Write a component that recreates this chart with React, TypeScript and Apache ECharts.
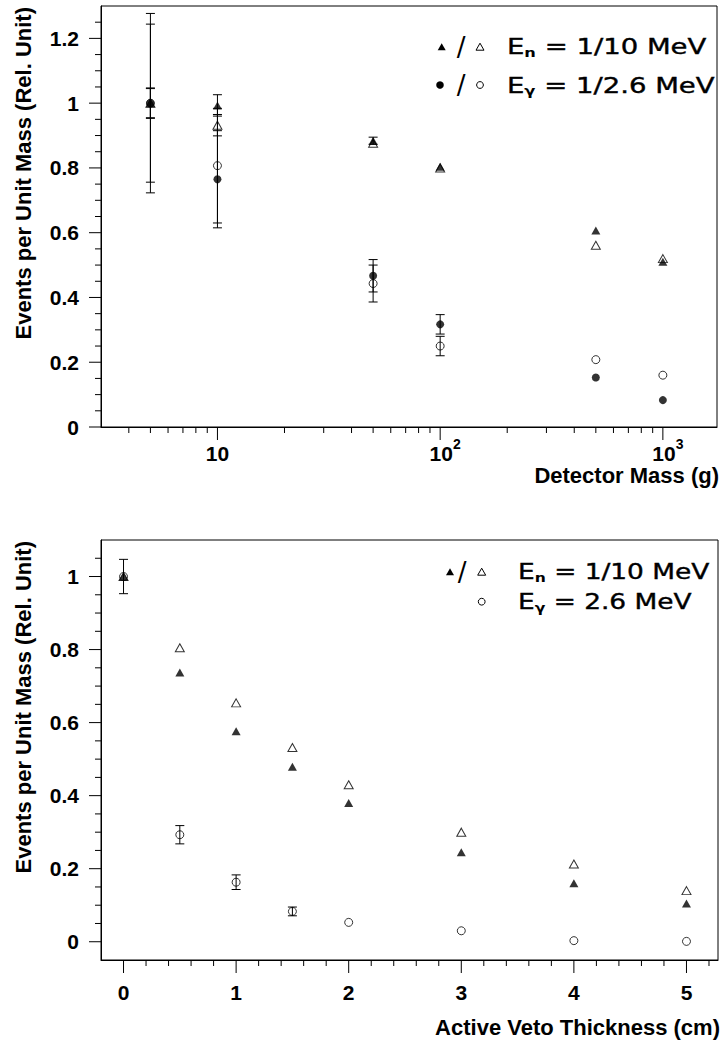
import React, { useEffect, useRef } from "react";
import * as echarts from "echarts";

// ---------- Top panel: events per unit mass vs detector mass ----------
const massG = [5, 10, 50, 100, 500, 1000];
const neutron1MeV = [1.0, 0.993, 0.884, 0.804, 0.607, 0.51];
const neutron1MeVErr = [0.045, 0.033, 0.011, 0, 0, 0];
const neutron10MeV = [1.0, 0.932, 0.876, 0.8, 0.561, 0.52];
const neutron10MeVErr = [0.047, 0.033, 0, 0, 0, 0];
const gamma1MeV = [1.0, 0.765, 0.467, 0.317, 0.153, 0.083];
const gamma1MeVErr = [0.277, 0.15, 0.05, 0.03, 0, 0];
const gamma26MeV = [1.0, 0.807, 0.443, 0.25, 0.208, 0.16];
const gamma26MeVErr = [0.244, 0.177, 0.057, 0.03, 0, 0];

// ---------- Bottom panel: events per unit mass vs active veto thickness ----------
const vetoCm = [0, 0.5, 1, 1.5, 2, 3, 4, 5];
const vetoNeutron1MeV = [1.0, 0.737, 0.576, 0.479, 0.38, 0.245, 0.16, 0.105];
const vetoNeutron10MeV = [1.0, 0.805, 0.654, 0.532, 0.43, 0.3, 0.213, 0.14];
const vetoGamma26MeV = [1.0, 0.293, 0.163, 0.083, 0.053, 0.03, 0.003, 0.001];
const vetoGamma26MeVErr = [0.047, 0.025, 0.02, 0.012, 0, 0, 0, 0];

// ---------- Tick positions ----------
const topXMajor = [10, 100, 1000];
const topXMinor = [4, 5, 6, 7, 8, 9, 20, 30, 40, 50, 60, 70, 80, 90, 200, 300, 400, 500, 600, 700, 800, 900];
const topYMajor = [0, 0.2, 0.4, 0.6, 0.8, 1, 1.2];
const topYMinor = [0.05, 0.1, 0.15, 0.25, 0.3, 0.35, 0.45, 0.5, 0.55, 0.65, 0.7, 0.75, 0.85, 0.9, 0.95, 1.05, 1.1, 1.15, 1.25];
const botXMajor = [0, 1, 2, 3, 4, 5];
const botXMinor = [0.2, 0.4, 0.6, 0.8, 1.2, 1.4, 1.6, 1.8, 2.2, 2.4, 2.6, 2.8, 3.2, 3.4, 3.6, 3.8, 4.2, 4.4, 4.6, 4.8, 5.2];
const botYMajor = [0, 0.2, 0.4, 0.6, 0.8, 1];
const botYMinor = [0.05, 0.1, 0.15, 0.25, 0.3, 0.35, 0.45, 0.5, 0.55, 0.65, 0.7, 0.75, 0.85, 0.9, 0.95, 1.05];

// axis ranges
const topXRange = [3, 1750];
const topYRange = [0, 1.3];
const botXRange = [-0.2, 5.28];
const botYRange = [-0.05, 1.1];

const FONT = "'Liberation Sans', Arial, Helvetica, sans-serif";
const LEG_FONT = "'DejaVu Sans', sans-serif";

const pairs = (xs: number[], ys: number[]) => xs.map((x, i) => [x, ys[i]]);
const triples = (xs: number[], ys: number[], es: number[]) => xs.map((x, i) => [x, ys[i], es[i]]);
const tickData = (xMaj: number[], xMin: number[], yMaj: number[], yMin: number[], x0: number, y0: number) => [
  ...xMaj.map((v) => [v, y0, 0]),
  ...xMin.map((v) => [v, y0, 1]),
  ...yMaj.map((v) => [x0, v, 2]),
  ...yMin.map((v) => [x0, v, 3]),
];

const lineStyle = { stroke: "#000", lineWidth: 1 };

const tickRender = (_p: any, api: any) => {
  const kind = api.value(2);
  const p = api.coord([api.value(0), api.value(1)]);
  const len = kind === 0 ? 13 : kind === 2 ? 12 : 6;
  const shape =
    kind >= 2
      ? { x1: p[0] - len, y1: p[1], x2: p[0], y2: p[1] }
      : { x1: p[0], y1: p[1], x2: p[0], y2: p[1] + len };
  return { type: "line", shape, style: lineStyle };
};

const errRender = (_p: any, api: any) => {
  const x = api.value(0);
  const y = api.value(1);
  const e = api.value(2);
  if (!(e > 0)) return null;
  const lo = api.coord([x, y - e]);
  const hi = api.coord([x, y + e]);
  const cw = 4.5;
  return {
    type: "group",
    children: [
      { type: "line", shape: { x1: lo[0], y1: lo[1], x2: hi[0], y2: hi[1] }, style: lineStyle },
      { type: "line", shape: { x1: hi[0] - cw, y1: hi[1], x2: hi[0] + cw, y2: hi[1] }, style: lineStyle },
      { type: "line", shape: { x1: lo[0] - cw, y1: lo[1], x2: lo[0] + cw, y2: lo[1] }, style: lineStyle },
    ],
  };
};

const filledStyle = { color: "#000", borderColor: "#000", borderWidth: 0 };
const openStyle = { color: "rgba(255,255,255,0)", borderColor: "#000", borderWidth: 1 };

const yLabel = (v: number) => {
  const k = v / 0.2;
  if (Math.abs(k - Math.round(k)) > 1e-6) return "";
  return String(parseFloat((Math.round(k) * 0.2).toFixed(1)));
};
const intLabel = (v: number) => (Math.abs(v - Math.round(v)) > 1e-6 ? "" : String(Math.round(v)));
const logLabel = (v: number) => {
  const p = Math.log10(v);
  const r = Math.round(p);
  if (Math.abs(p - r) > 1e-6) return "";
  return r === 1 ? "{b|10}" : "{bs|10}{s|" + r + "}";
};

const labelStyle = { fontSize: 21, fontWeight: "bold", fontFamily: FONT, color: "#000" };
const axisLineStyle = { show: true, onZero: false, lineStyle: { color: "#000", width: 1 } };

const scatter = (name: string, xi: number, data: number[][], symbol: string, open: boolean, z: number) => ({
  name,
  type: "scatter",
  xAxisIndex: xi,
  yAxisIndex: xi,
  data,
  symbol,
  symbolSize: symbol === "triangle" ? [9, 8] : 8,
  itemStyle: open ? openStyle : filledStyle,
  z,
  silent: true,
});

const legendText = (x: number, y: number, sub: string, rest: string, sx: number) => ({
  type: "text",
  x,
  y,
  scaleX: sx,
  style: {
    text: "{a|E}{b|" + sub + "}{a| = " + rest + "}",
    fill: "#000",
    align: "left",
    verticalAlign: "middle",
    rich: {
      a: { fontSize: 22, fontFamily: LEG_FONT, lineHeight: 30, fill: "#000", stroke: "#000", lineWidth: 0.4 },
      b: { fontSize: 13, fontFamily: LEG_FONT, fontWeight: "bold", lineHeight: 30, padding: [11, 0, 0, 0], fill: "#000" },
    },
  },
});
const triSym = (cx: number, cy: number, filled: boolean) => ({
  type: "polygon",
  shape: { points: [[cx - 4, cy + 3.5], [cx + 4, cy + 3.5], [cx, cy - 3.5]] },
  style: filled ? { fill: "#000" } : { fill: "none", stroke: "#000", lineWidth: 1 },
});
const circSym = (cx: number, cy: number, filled: boolean) => ({
  type: "circle",
  shape: { cx, cy, r: filled ? 3.8 : 3.4 },
  style: filled ? { fill: "#000" } : { fill: "none", stroke: "#000", lineWidth: 1 },
});
const slash = (x: number, y: number) => ({
  type: "text",
  x,
  y,
  style: { text: "/", fontSize: 26, fontFamily: LEG_FONT, fill: "#000", align: "center", verticalAlign: "middle" },
});

export default function App() {
  const ref = useRef<HTMLDivElement>(null);
  useEffect(() => {
    if (!ref.current) return;
    const chart = echarts.init(ref.current, null, { renderer: "svg" });
    const option: any = {
      animation: false,
      backgroundColor: "#fff",
      grid: [
        { left: 101, right: 7, top: 6, bottom: 615, show: true, borderColor: "#000", borderWidth: 1, backgroundColor: "transparent", containLabel: false, outerBoundsMode: "none" },
        { left: 101, right: 6, top: 540, bottom: 82, show: true, borderColor: "#000", borderWidth: 1, backgroundColor: "transparent", containLabel: false, outerBoundsMode: "none" },
      ],
      xAxis: [
        {
          type: "log",
          logBase: 10,
          gridIndex: 0,
          min: topXRange[0],
          max: topXRange[1],
          axisLine: axisLineStyle,
          axisTick: { show: false },
          minorTick: { show: false },
          splitLine: { show: false },
          axisLabel: {
            margin: 10,
            formatter: logLabel,
            color: "#000",
            rich: {
              b: { ...labelStyle, lineHeight: 32 },
              bs: { ...labelStyle, lineHeight: 32, padding: [0, 0, 0, 10] },
              s: { fontSize: 14, fontWeight: "bold", fontFamily: FONT, color: "#000", lineHeight: 32, padding: [0, 0, 18, 0] },
            },
          },
        },
        {
          type: "value",
          gridIndex: 1,
          min: botXRange[0],
          max: botXRange[1],
          interval: 0.2,
          axisLine: axisLineStyle,
          axisTick: { show: false },
          splitLine: { show: false },
          axisLabel: { ...labelStyle, margin: 22, formatter: intLabel },
        },
      ],
      yAxis: [
        {
          type: "value",
          gridIndex: 0,
          min: topYRange[0],
          max: topYRange[1],
          interval: 0.05,
          axisLine: axisLineStyle,
          axisTick: { show: false },
          splitLine: { show: false },
          axisLabel: { ...labelStyle, margin: 22, formatter: yLabel },
        },
        {
          type: "value",
          gridIndex: 1,
          min: botYRange[0],
          max: botYRange[1],
          interval: 0.05,
          axisLine: axisLineStyle,
          axisTick: { show: false },
          splitLine: { show: false },
          axisLabel: { ...labelStyle, margin: 22, formatter: yLabel },
        },
      ],
      series: [
        {
          type: "custom",
          name: "topTicks",
          xAxisIndex: 0,
          yAxisIndex: 0,
          clip: false,
          silent: true,
          renderItem: tickRender,
          data: tickData(topXMajor, topXMinor, topYMajor, topYMinor, topXRange[0], topYRange[0]),
          z: 1,
        },
        {
          type: "custom",
          name: "botTicks",
          xAxisIndex: 1,
          yAxisIndex: 1,
          clip: false,
          silent: true,
          renderItem: tickRender,
          data: tickData(botXMajor, botXMinor, botYMajor, botYMinor, botXRange[0], botYRange[0]),
          z: 1,
        },
        {
          type: "custom",
          name: "topErrors",
          xAxisIndex: 0,
          yAxisIndex: 0,
          clip: false,
          silent: true,
          renderItem: errRender,
          data: [
            ...triples(massG, neutron1MeV, neutron1MeVErr),
            ...triples(massG, neutron10MeV, neutron10MeVErr),
            ...triples(massG, gamma1MeV, gamma1MeVErr),
            ...triples(massG, gamma26MeV, gamma26MeVErr),
          ],
          z: 2,
        },
        {
          type: "custom",
          name: "botErrors",
          xAxisIndex: 1,
          yAxisIndex: 1,
          clip: false,
          silent: true,
          renderItem: errRender,
          data: triples(vetoCm, vetoGamma26MeV, vetoGamma26MeVErr),
          z: 2,
        },
        scatter("En = 10 MeV", 0, pairs(massG, neutron10MeV), "triangle", true, 3),
        scatter("En = 1 MeV", 0, pairs(massG, neutron1MeV), "triangle", false, 4),
        scatter("Eγ = 2.6 MeV", 0, pairs(massG, gamma26MeV), "circle", true, 5),
        scatter("Eγ = 1 MeV", 0, pairs(massG, gamma1MeV), "circle", false, 6),
        scatter("veto Eγ = 2.6 MeV", 1, pairs(vetoCm, vetoGamma26MeV), "circle", true, 3),
        scatter("veto En = 10 MeV", 1, pairs(vetoCm, vetoNeutron10MeV), "triangle", true, 4),
        scatter("veto En = 1 MeV", 1, pairs(vetoCm, vetoNeutron1MeV), "triangle", false, 5),
      ],
      graphic: {
        elements: [
          // axis titles
          {
            type: "text",
            x: 23,
            y: 7,
            rotation: Math.PI / 2,
            style: { text: "Events per Unit Mass (Rel. Unit)", fontSize: 22, fontWeight: "bold", fontFamily: FONT, fill: "#000", align: "right", verticalAlign: "middle" },
          },
          {
            type: "text",
            x: 23,
            y: 541,
            rotation: Math.PI / 2,
            style: { text: "Events per Unit Mass (Rel. Unit)", fontSize: 22, fontWeight: "bold", fontFamily: FONT, fill: "#000", align: "right", verticalAlign: "middle" },
          },
          {
            type: "text",
            x: 719,
            y: 475,
            style: { text: "Detector Mass (g)", fontSize: 22, fontWeight: "bold", fontFamily: FONT, fill: "#000", align: "right", verticalAlign: "middle" },
          },
          {
            type: "text",
            x: 720,
            y: 1027,
            style: { text: "Active Veto Thickness (cm)", fontSize: 22, fontWeight: "bold", fontFamily: FONT, fill: "#000", align: "right", verticalAlign: "middle" },
          },
          // top legend
          triSym(441.7, 46.7, true),
          slash(461, 46.7),
          triSym(480, 46.7, false),
          legendText(507, 46.7, "n", "1/10 MeV", 1.25),
          circSym(440, 85, true),
          slash(461, 85),
          circSym(480, 85, false),
          legendText(507, 85, "γ", "1/2.6 MeV", 1.25),
          // bottom legend
          triSym(450, 571.7, true),
          slash(462, 571.7),
          triSym(481.7, 571.7, false),
          legendText(518, 571.7, "n", "1/10 MeV", 1.2),
          circSym(481.7, 601.7, false),
          legendText(518, 601.7, "γ", "2.6 MeV", 1.2),
        ],
      },
    };
    chart.setOption(option);
    return () => chart.dispose();
  }, []);
  return <div ref={ref} style={{ position: "absolute", left: 0, top: 0, width: 724, height: 1042, background: "#fff" }} />;
}
